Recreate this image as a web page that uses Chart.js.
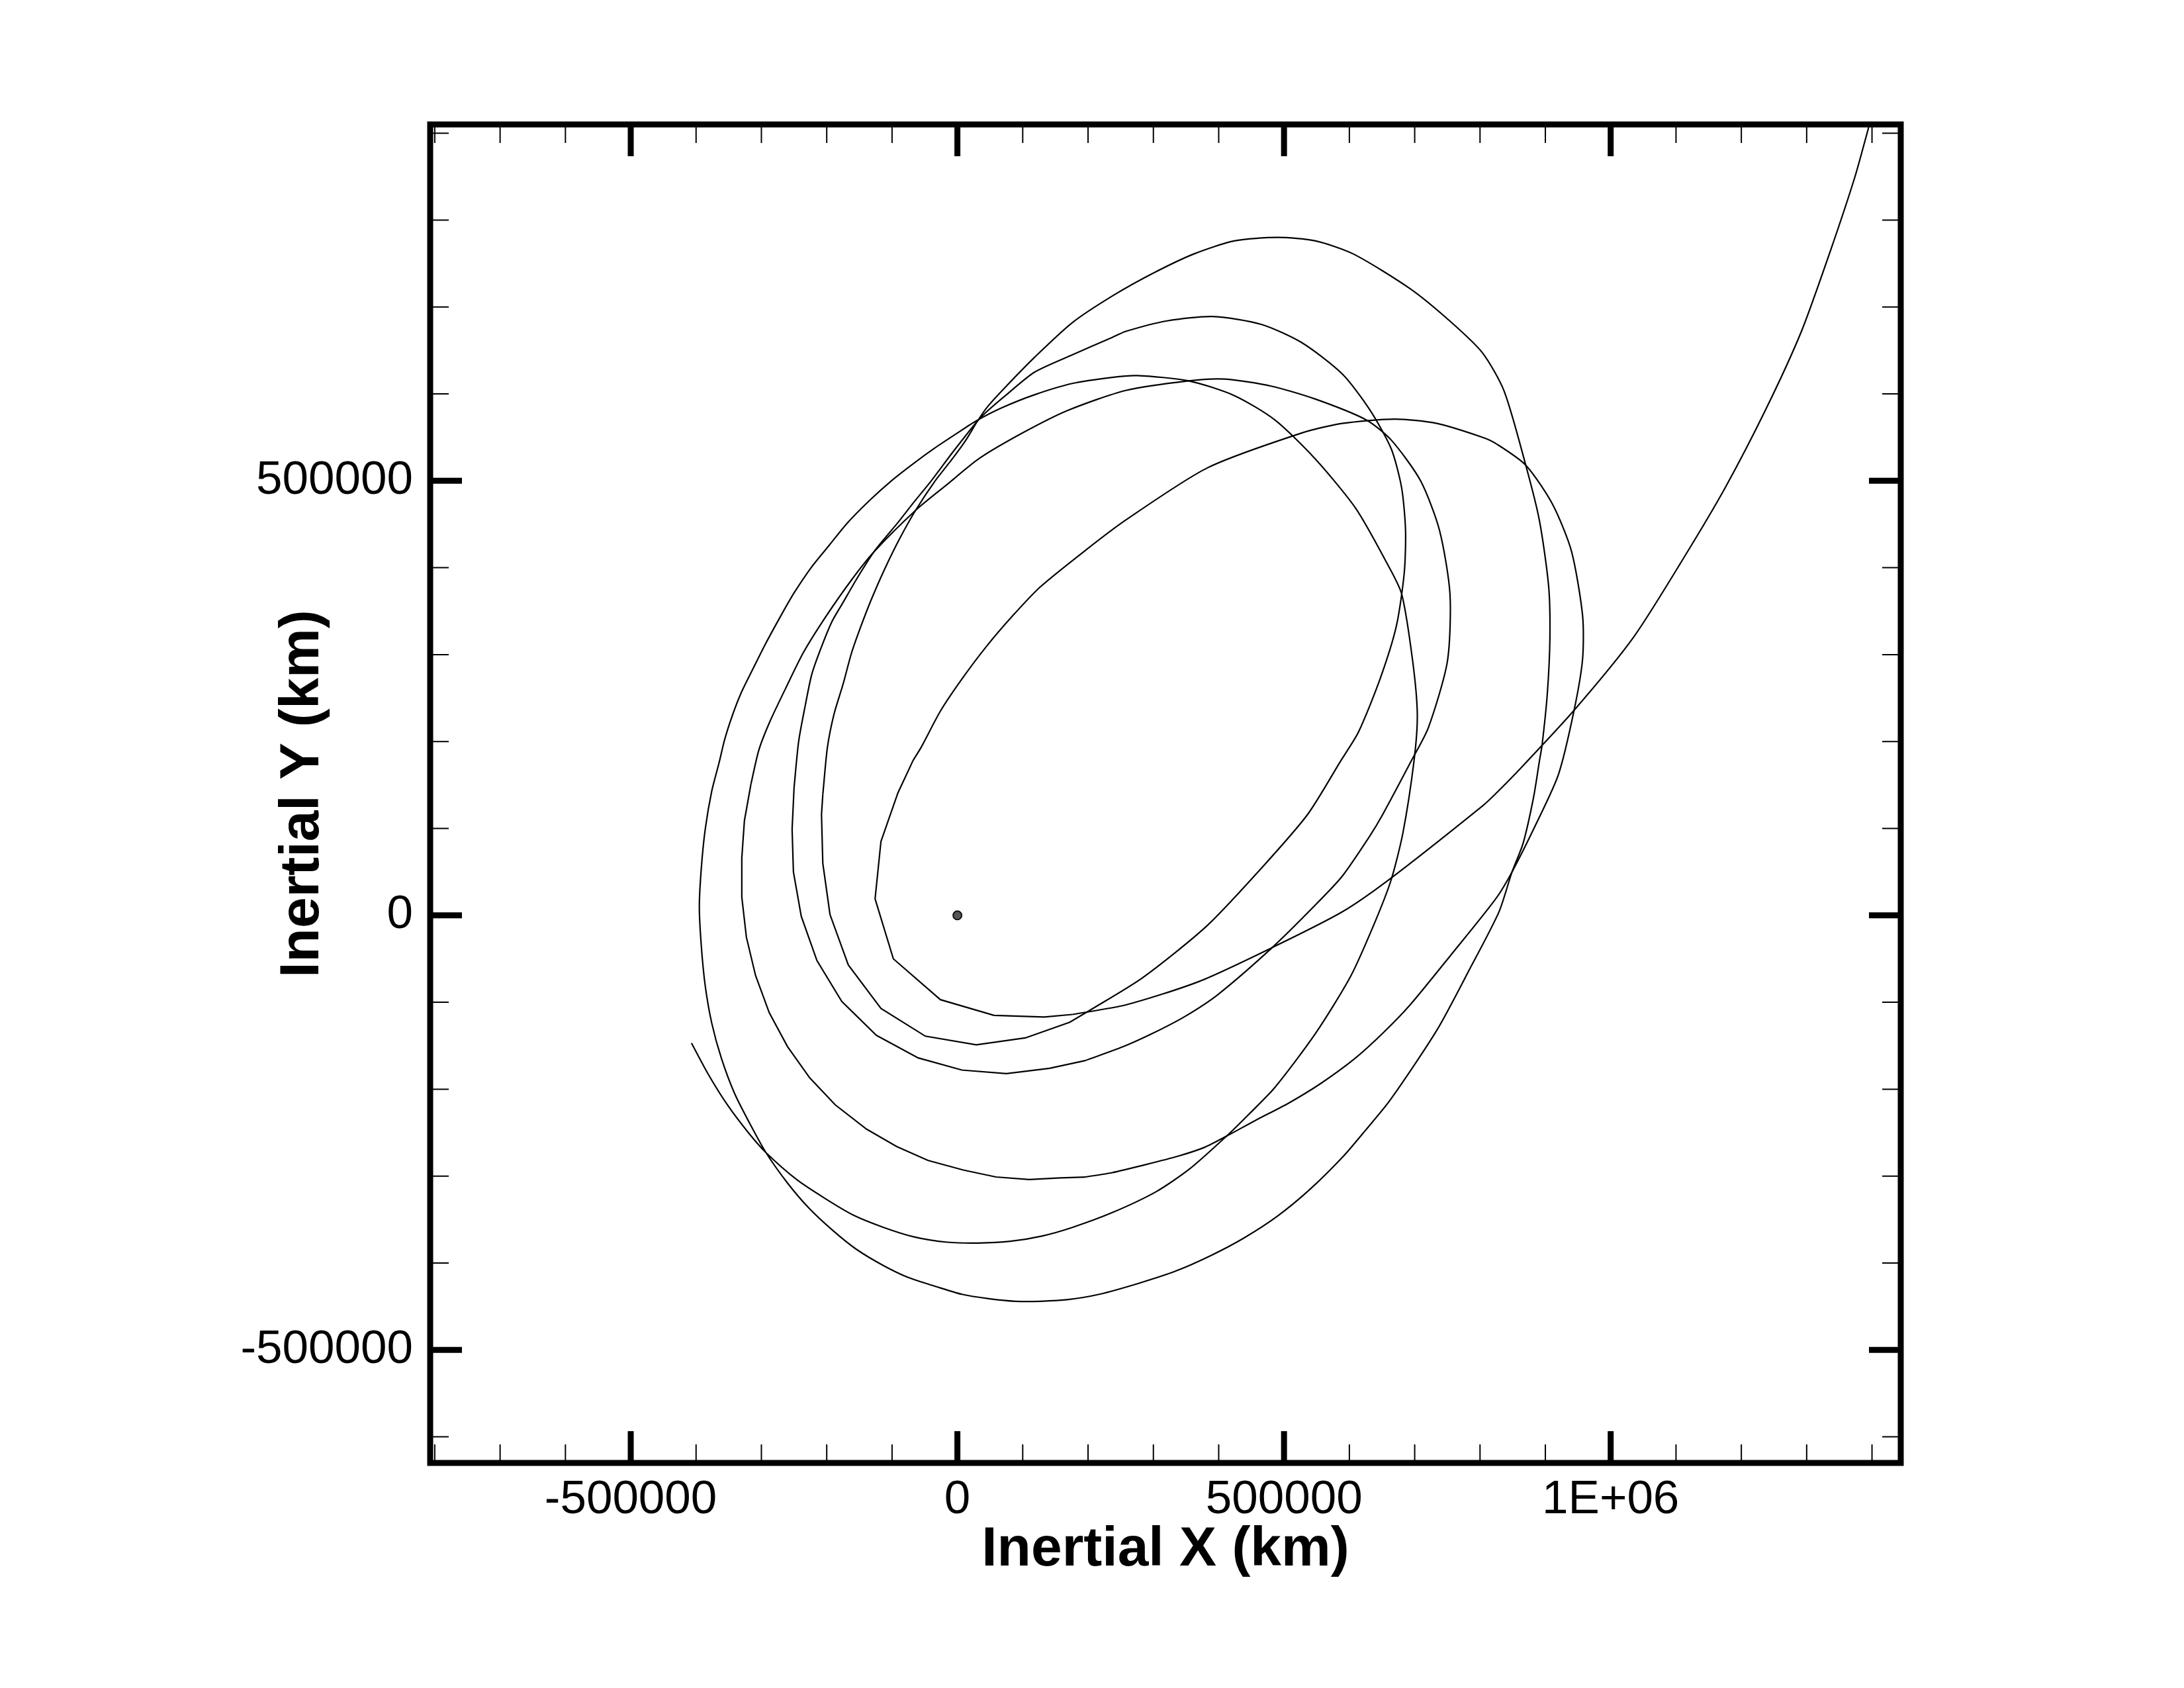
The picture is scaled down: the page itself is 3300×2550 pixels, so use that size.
<!DOCTYPE html>
<html>
<head>
<meta charset="utf-8">
<script src="https://cdn.jsdelivr.net/npm/chart.js@4.4.1/dist/chart.umd.min.js"></script>
<style>
  html, body { margin: 0; padding: 0; background: #fff; }
  canvas { display: block; }
</style>
</head>
<body>
<canvas id="orbitChart" width="3300" height="2550"></canvas>
<script>
/* ---- Axis setup (km) ---- */
var xRange = [-807000, 1444000];
var yRange = [-630000, 910000];
var xMajorTicks = [-500000, 0, 500000, 1000000];
var xTickLabels = ['-500000', '0', '500000', '1E+06'];
var yMajorTicks = [-500000, 0, 500000];
var yTickLabels = ['-500000', '0', '500000'];
var xMinorTicks = [-800000, -700000, -600000, -400000, -300000, -200000, -100000,
    100000, 200000, 300000, 400000, 600000, 700000, 800000, 900000,
    1100000, 1200000, 1300000, 1400000];
var yMinorTicks = [-600000, -400000, -300000, -200000, -100000,
    100000, 200000, 300000, 400000, 600000, 700000, 800000, 900000];

/* ---- Trajectory, inertial X/Y in km ----
   arcN: slow, finely sampled parts; periN: coarse samples near periapsis */
var arc1 = [[-407000,-147000],[-382000,-182000],[-353000,-217000],[-320000,-250000],[-293000,-273000],
    [-246000,-304000],[-202000,-326000],[-159000,-345000],[-113000,-359000],[-66000,-370000],[-16000,-376000],
    [32000,-377000],[81000,-375000],[129000,-369000],[176000,-359000],[237000,-342000],[304000,-318000],
    [355000,-292000],[412000,-254000],[446000,-229000],[486000,-198000],[548000,-136000],
    [602000,-70000],[639000,-8000],[664000,41000],[682000,95000],[699000,178000],[704000,231000],
    [697000,292000],[680000,370000],[657000,406000],[610000,468000],[548000,525000],[486000,570000],
    [424000,598000],[354000,615000],[275000,621000],[237000,619000],[176000,612000],[118000,599000],
    [68000,584000],[29000,569000],[0,555000],[-34000,538000],[-67000,520000],[-101000,500000],
    [-135000,477000],[-169000,451000],[-196000,426000],[-223000,401000],[-250000,371000],[-270000,345000],
    [-294000,312000],[-314000,282000],[-331000,256000],[-344000,231000],[-356000,203000],[-365000,175000],
    [-376000,143000],[-386000,99000],[-392000,54000],[-395000,10000],[-392000,-35000],
    [-386000,-81000],[-376000,-124000],[-361000,-165000],[-341000,-205000],[-316000,-242000],[-293000,-273000],
    [-260000,-308000],[-227000,-337000],[-190000,-363000],[-155000,-384000],[-113000,-403000],[-74000,-417000],
    [-33000,-427000],[7000,-436000],[48000,-441000],[89000,-444000],[127000,-444000],[170000,-442000],
    [217000,-436000],[279000,-423000],[335000,-409000],[389000,-391000],[439000,-371000],[490000,-346000],
    [540000,-315000],[591000,-277000],[625000,-247000],[662000,-213000],[734000,-132000],
    [784000,-62000],[829000,4000],[849000,50000],[866000,83000],[882000,136000],[891000,178000],
    [895000,196000],[903000,255000],[907000,320000],[905000,379000],[891000,454000],[870000,518000],
    [837000,603000],[804000,647000],[755000,683000],[693000,721000],[606000,761000],[548000,776000],
    [490000,780000],[424000,776000],[362000,761000],[300000,739000],[238000,713000],[176000,682000],
    [118000,642000],[75000,609000],[47000,586000],[31000,569000],[14000,548000],[-7000,526000],
    [-34000,500000],[-64000,466000],[-88000,434000],[-111000,399000],[-132000,363000],[-148000,332000],
    [-162000,302000],[-175000,266000],[-189000,231000],[-199000,193000],[-206000,139000]];

var peri1 = [[-206000,139000],[-208000,116000],[-206000,60000],[-195000,1000],[-167000,-57000],
    [-117000,-107000],[-49000,-139000],[29000,-149000],[104000,-141000],[172000,-123000],[201000,-110000]];

var arc2 = [[201000,-110000],[283000,-72000],[382000,-12000],[465000,54000],[536000,116000],[587000,178000],
    [614000,211000],[647000,272000],[672000,333000],[684000,394000],[686000,443000],[680000,492000],
    [664000,537000],[631000,582000],[589000,623000],[527000,659000],[465000,680000],[391000,689000],
    [321000,684000],[258000,672000],[237000,665000],[176000,645000],[118000,625000],[75000,599000],
    [47000,581000],[31000,569000],[-7000,533000],[-40000,500000],[-67000,475000],[-91000,452000],
    [-111000,434000],[-128000,418000],[-155000,386000],[-175000,360000],[-192000,338000],[-209000,307000],
    [-223000,277000],[-233000,241000],[-243000,200000],[-250000,147000]];

var peri2 = [[-250000,147000],[-253000,99000],[-251000,50000],[-239000,-1000],[-215000,-52000],
    [-177000,-99000],[-124000,-138000],[-60000,-164000],[7000,-178000],[75000,-182000],[141000,-176000],
    [196000,-167000]];

var arc3 = [[196000,-167000],[254000,-151000],[301000,-135000],[349000,-116000],[399000,-91000],[482000,-37000],
    [548000,12000],[589000,45000],[631000,91000],[651000,116000],[695000,178000],
    [721000,216000],[750000,292000],[754000,370000],[738000,443000],[709000,500000],[664000,547000],
    [626000,570000],[548000,594000],[480000,609000],[409000,617000],[354000,615000],[258000,604000],
    [169000,581000],[102000,556000],[34000,526000],[-17000,495000],[-64000,466000],
    [-128000,418000],[-162000,386000],[-202000,343000],[-236000,302000],[-263000,261000],[-287000,223000],
    [-304000,190000],[-316000,151000]];

var peri3 = [[-316000,151000],[-326000,109000],[-330000,66000],[-330000,21000],[-323000,-25000],
    [-309000,-69000],[-288000,-112000],[-260000,-151000],[-226000,-187000],[-187000,-218000],
    [-139000,-246000],[-93000,-266000],[-45000,-282000],[9000,-293000],[59000,-301000],[110000,-304000],
    [158000,-302000],[196000,-301000]];

var arc4 = [[196000,-301000],[237000,-296000],[287000,-287000],[338000,-277000],[378000,-267000],[412000,-254000],
    [456000,-236000],[507000,-216000],[557000,-193000],[608000,-165000],[652000,-135000],[693000,-103000],
    [755000,-46000],[824000,19000],[849000,50000],[887000,107000],[920000,162000],[944000,236000],
    [957000,295000],[957000,345000],[940000,419000],[911000,473000],[870000,518000],[824000,543000],
    [804000,550000],[734000,566000],[670000,571000],[589000,566000],[527000,555000],[383000,515000],
    [258000,455000],[196000,420000],[127000,378000],[85000,345000],[44000,309000],[7000,272000],
    [-26000,235000],[-55000,194000],[-68000,178000]];

var peri4 = [[-68000,178000],[-91000,141000],[-117000,85000],[-126000,19000],[-98000,-50000],
    [-26000,-97000],[56000,-115000],[133000,-117000],[176000,-114000]];

var departure = [[176000,-114000],[258000,-103000],[370000,-76000],[482000,-37000],[589000,4000],
    [664000,43000],[804000,126000],[824000,140000],[853000,162000],[944000,236000],[1035000,320000],
    [1114000,414000],[1176000,493000],[1238000,583000],[1292000,672000],[1337000,766000],
    [1374000,850000],[1395000,907000]];

var centralBody = [[0, 0]];

/* ---- Styling ---- */
var FONT = '"Liberation Sans", Arial, Helvetica, sans-serif';
var SMOOTH = 0.25;

function toPoints(pairs) {
    return pairs.map(function(p) { return { x: p[0], y: p[1] }; });
}

function pathSet(pairs, tension) {
    return {
        data: toPoints(pairs),
        showLine: true,
        borderColor: '#000',
        borderWidth: 2.2,
        pointRadius: 0,
        tension: tension,
        fill: false
    };
}

/* ---- Frame + inward tick marks on all four sides ---- */
var frameTicks = {
    id: 'frameTicks',
    afterDatasetsDraw: function(chart) {
        var ctx = chart.ctx, a = chart.chartArea;
        var xs = chart.scales.x, ys = chart.scales.y;
        ctx.save();
        ctx.strokeStyle = '#000';
        ctx.lineCap = 'butt';

        function xticks(values, len, width) {
            ctx.lineWidth = width;
            ctx.beginPath();
            values.forEach(function(v) {
                var px = xs.getPixelForValue(v);
                if (px < a.left || px > a.right) return;
                ctx.moveTo(px, a.bottom); ctx.lineTo(px, a.bottom - len);
                ctx.moveTo(px, a.top); ctx.lineTo(px, a.top + len);
            });
            ctx.stroke();
        }
        function yticks(values, len, width) {
            ctx.lineWidth = width;
            ctx.beginPath();
            values.forEach(function(v) {
                var py = ys.getPixelForValue(v);
                if (py < a.top || py > a.bottom) return;
                ctx.moveTo(a.left, py); ctx.lineTo(a.left + len, py);
                ctx.moveTo(a.right, py); ctx.lineTo(a.right - len, py);
            });
            ctx.stroke();
        }
        xticks(xMinorTicks, 28, 2);
        yticks(yMinorTicks, 28, 2);
        xticks(xMajorTicks, 48, 9);
        yticks(yMajorTicks, 48, 9);

        ctx.lineWidth = 9;
        ctx.strokeRect(a.left, a.top, a.right - a.left, a.bottom - a.top);
        ctx.restore();
    }
};

new Chart(document.getElementById('orbitChart').getContext('2d'), {
    type: 'scatter',
    data: {
        datasets: [
            pathSet(arc1, SMOOTH), pathSet(peri1, 0),
            pathSet(arc2, SMOOTH), pathSet(peri2, 0),
            pathSet(arc3, SMOOTH), pathSet(peri3, 0),
            pathSet(arc4, SMOOTH), pathSet(peri4, 0),
            pathSet(departure, SMOOTH),
            {
                data: toPoints(centralBody),
                pointRadius: 6.5,
                pointBackgroundColor: '#555',
                pointBorderColor: '#111',
                pointBorderWidth: 2,
                showLine: false
            }
        ]
    },
    options: {
        responsive: false,
        animation: false,
        devicePixelRatio: 1,
        layout: { padding: { left: 0, right: 428, top: 188, bottom: 0 } },
        plugins: { legend: { display: false }, tooltip: { enabled: false } },
        scales: {
            x: {
                type: 'linear', position: 'bottom',
                min: xRange[0], max: xRange[1],
                grid: { display: false }, border: { display: false },
                afterBuildTicks: function(s) { s.ticks = xMajorTicks.map(function(v) { return { value: v }; }); },
                afterFit: function(s) { s.height = 340; },
                ticks: {
                    color: '#000', padding: 6, maxRotation: 0, autoSkip: false,
                    font: { family: FONT, size: 71 },
                    callback: function(v) { return xTickLabels[xMajorTicks.indexOf(v)]; }
                },
                title: {
                    display: true, text: 'Inertial X (km)', color: '#000',
                    font: { family: FONT, size: 84, weight: 'bold' },
                    padding: { top: 0, bottom: 158 }
                }
            },
            y: {
                type: 'linear', position: 'left',
                min: yRange[0], max: yRange[1],
                grid: { display: false }, border: { display: false },
                afterBuildTicks: function(s) { s.ticks = yMajorTicks.map(function(v) { return { value: v }; }); },
                afterFit: function(s) { s.width = 650; },
                ticks: {
                    color: '#000', padding: 18, autoSkip: false,
                    font: { family: FONT, size: 71 },
                    callback: function(v) { return yTickLabels[yMajorTicks.indexOf(v)]; }
                },
                title: {
                    display: true, text: 'Inertial Y (km)', color: '#000',
                    font: { family: FONT, size: 84, weight: 'bold' },
                    padding: { top: 407, bottom: 0 }
                }
            }
        }
    },
    plugins: [frameTicks]
});
</script>
</body>
</html>
